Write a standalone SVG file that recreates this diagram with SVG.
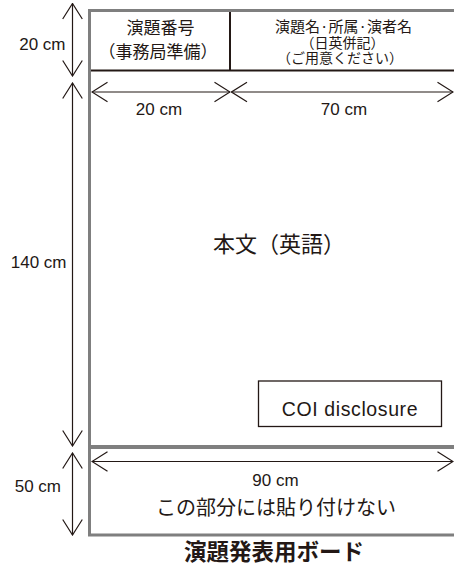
<svg xmlns="http://www.w3.org/2000/svg" width="454" height="566" viewBox="0 0 454 566">
<style>
.frame{fill:none;stroke:#7f7f7f;stroke-width:3}
.rule{fill:none;stroke:#231815;stroke-width:2}
.box{fill:#fff;stroke:#231815;stroke-width:1.3}
.dim{fill:none;stroke:#231815;stroke-width:1.2;marker-start:url(#ah);marker-end:url(#ah)}
.lat{font-family:"Liberation Sans",Arial,sans-serif;fill:#231815}
.jp{font-family:"Noto Sans CJK JP","Noto Sans",sans-serif;fill:#231815}
</style>
<defs>
<marker id="ah" viewBox="-17 -11 18 22" refX="0" refY="0" markerWidth="18" markerHeight="22" markerUnits="userSpaceOnUse" orient="auto-start-reverse">
<path d="M-15.5,-9.8 L0,0 L-15.5,9.8" fill="none" stroke="#231815" stroke-width="1.2"/>
</marker>
</defs>
<rect width="454" height="566" fill="#fff"/>

<g id="board">
<path class="frame" d="M470,10.5 H89.5 V535 H470"/>
<line x1="89" y1="447" x2="470" y2="447" stroke="#7f7f7f" stroke-width="4"/>
</g>

<g id="header-number">
<line class="rule" x1="91" y1="70.5" x2="470" y2="70.5"/>
<line class="rule" x1="230" y1="12" x2="230" y2="70"/>
<text class="jp" x="160.5" y="33.8" font-size="17" text-anchor="middle">演題番号</text>
<text class="jp" x="158" y="58" font-size="17" text-anchor="middle">（事務局準備）</text>
</g>

<g id="header-title">
<text class="jp" x="343.5" y="31.5" font-size="15" text-anchor="middle" textLength="137">演題名·所属·演者名</text>
<text class="jp" x="342.5" y="47.5" font-size="14" text-anchor="middle">（日英併記）</text>
<text class="jp" x="340" y="62.5" font-size="14" text-anchor="middle">（ご用意ください）</text>
</g>

<g id="body">
<text class="jp" x="279" y="251.5" font-size="22" text-anchor="middle">本文（英語）</text>
</g>

<g id="coi">
<rect class="box" x="258.5" y="381" width="183" height="45.5"/>
<text class="lat" x="350" y="416" font-size="19.5" letter-spacing="0.6" text-anchor="middle">COI disclosure</text>
</g>

<g id="bottom-area">
<text class="jp" x="276" y="515" font-size="20" text-anchor="middle">この部分には貼り付けない</text>
</g>

<g id="connectors">
<line class="dim" x1="72.5" y1="3.5" x2="72.5" y2="76"/>
<line class="dim" x1="72.5" y1="83" x2="72.5" y2="446"/>
<line class="dim" x1="72.5" y1="453" x2="72.5" y2="535"/>
<line class="dim" x1="92" y1="92" x2="230" y2="92"/>
<line class="dim" x1="231.5" y1="92" x2="453" y2="92"/>
<line class="dim" x1="92" y1="461.5" x2="453" y2="461.5"/>
</g>

<g id="dim-labels">
<text class="lat" x="65.5" y="50" font-size="17" text-anchor="end">20 cm</text>
<text class="lat" x="66.5" y="268" font-size="17" text-anchor="end">140 cm</text>
<text class="lat" x="61" y="492" font-size="17" text-anchor="end">50 cm</text>
<text class="lat" x="159" y="115" font-size="17" text-anchor="middle">20 cm</text>
<text class="lat" x="344" y="115" font-size="17" text-anchor="middle">70 cm</text>
<text class="lat" x="275.5" y="486" font-size="17" text-anchor="middle">90 cm</text>
</g>

<g id="title">
<text class="jp" x="274" y="559.5" font-size="22.5" font-weight="bold" text-anchor="middle">演題発表用ボード</text>
</g>
</svg>
